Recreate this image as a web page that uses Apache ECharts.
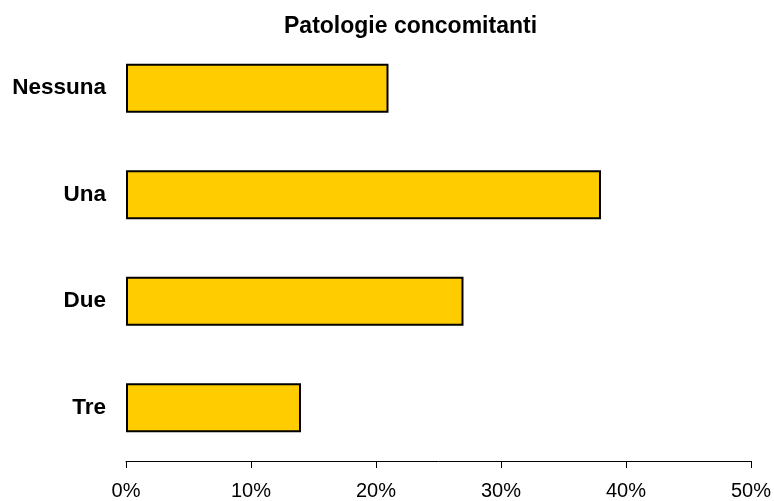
<!DOCTYPE html>
<html>
<head>
<meta charset="utf-8">
<script src="https://cdn.jsdelivr.net/npm/echarts@6/dist/echarts.min.js"></script>
<style>html,body{margin:0;padding:0;background:#fff}#c{width:774px;height:501px}</style>
</head>
<body>
<div id="c"></div>
<script>
const categories = ['Nessuna', 'Una', 'Due', 'Tre'];
const values = [21, 38, 27, 14];
const xTicks = [0, 10, 20, 30, 40, 50];
const titleText = 'Patologie concomitanti';

const chart = echarts.init(document.getElementById('c'));
chart.setOption({
  animation: false,
  backgroundColor: '#ffffff',
  title: {
    text: titleText,
    left: 279,
    top: 10,
    textStyle: { fontFamily: 'Liberation Sans, Arial, sans-serif', fontWeight: 'bold', fontSize: 23, color: '#000' }
  },
  grid: { left: 126, right: 20, top: 35, bottom: 37, containLabel: false },
  xAxis: {
    type: 'value',
    min: xTicks[0],
    max: xTicks[xTicks.length - 1],
    interval: 10,
    axisLine: { show: true, lineStyle: { color: '#000', width: 1 } },
    axisTick: { show: true, length: 7, lineStyle: { color: '#000' } },
    splitLine: { show: false },
    axisLabel: { formatter: '{value}%', margin: 20, color: '#000', fontSize: 20, fontFamily: 'Liberation Sans, Arial, sans-serif' }
  },
  yAxis: {
    type: 'category',
    data: categories,
    inverse: true,
    axisLine: { show: false },
    axisTick: { show: false },
    axisLabel: { margin: 20, color: '#000', fontSize: 22.5, fontWeight: 'bold', fontFamily: 'Liberation Sans, Arial, sans-serif' }
  },
  series: [{
    type: 'bar',
    data: values,
    barWidth: '46%',
    itemStyle: { color: '#FFCC00', borderColor: '#000', borderWidth: 2 }
  }]
});
</script>
</body>
</html>
